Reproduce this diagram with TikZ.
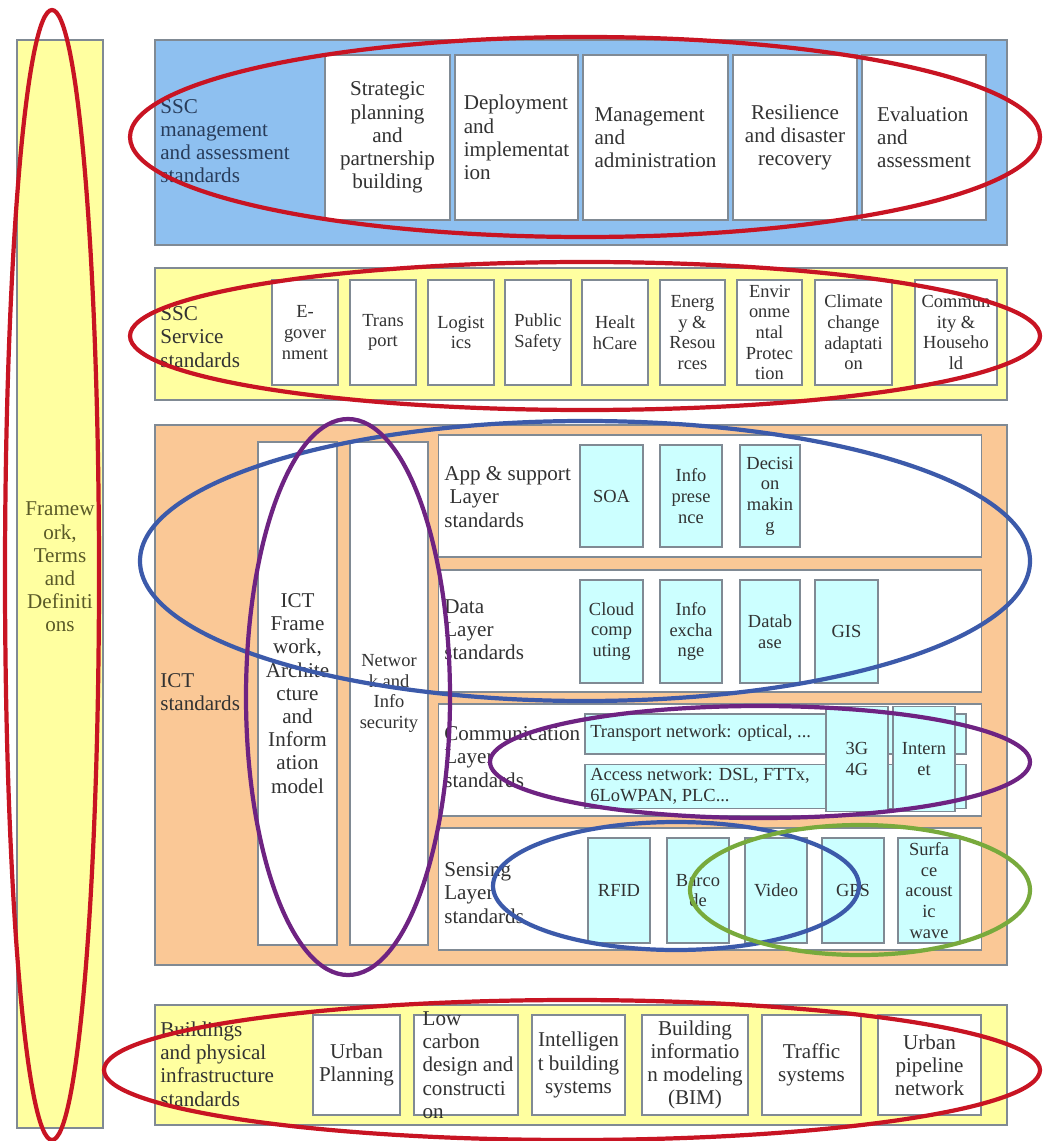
\documentclass[tikz,border=0pt]{standalone}
\usepackage{fontspec}
\setmainfont{Liberation Serif}
\definecolor{skyfill}{RGB}{142,192,240}
\definecolor{paleyellow}{RGB}{255,255,160}
\definecolor{peach}{RGB}{250,200,150}
\definecolor{icecyan}{RGB}{204,255,255}
\definecolor{rimgray}{RGB}{128,138,148}
\definecolor{inkgray}{RGB}{50,50,50}
\definecolor{slatetext}{RGB}{40,60,90}
\definecolor{olivetext}{RGB}{90,90,40}
\definecolor{ringred}{RGB}{200,20,35}
\definecolor{ringblue}{RGB}{60,90,170}
\definecolor{ringpurple}{RGB}{110,35,130}
\definecolor{ringgreen}{RGB}{120,170,60}

\begin{document}
\begin{tikzpicture}[x=0.02cm, y=-0.02cm,
    every node/.style={font=\fontsize{12}{13.2}\selectfont, text=inkgray},
    band/.style={rectangle, draw=rimgray, line width=0.9pt},
    wbox/.style={rectangle, draw=rimgray, fill=white, line width=0.9pt, inner sep=1pt, align=center},
    svcfont/.style={font=\fontsize{10.5}{11.8}\selectfont},
    cbox/.style={wbox, fill=icecyan, svcfont},
    lbl/.style={anchor=west, align=left, inner sep=0pt},
    ring/.style={line width=2.4pt}]
    \useasboundingbox (0,0) rectangle (1042,1141);

    % Framework column
    \node[band, fill=paleyellow, minimum width=1.72cm, minimum height=21.76cm] (frame) at (60,584) {};
    \node[align=center, text=olivetext] (frameT) at (60,567) {Framew\\ork,\\Terms\\and\\Definiti\\ons};

    % SSC management band
    \node[band, fill=skyfill, minimum width=17.04cm, minimum height=4.10cm] (mgmt) at (581,142.5) {};
    \node[lbl, text=slatetext] (mgmtT) at (160,141) {SSC\\management\\and assessment\\standards};
    \node[wbox, minimum width=2.50cm, minimum height=3.30cm] (strat) at (387.5,137.5) {Strategic\\planning\\and\\partnership\\building};
    \node[wbox, align=left, minimum width=2.46cm, minimum height=3.30cm] (deploy) at (516.5,137.5) {Deployment\\and\\implementat\\ion};
    \node[wbox, align=left, minimum width=2.90cm, minimum height=3.30cm] (manage) at (655.5,137.5) {Management\\and\\administration};
    \node[wbox, minimum width=2.48cm, minimum height=3.30cm] (resil) at (795,137.5) {Resilience\\and disaster\\recovery};
    \node[wbox, align=left, minimum width=2.48cm, minimum height=3.30cm] (evalu) at (924,137.5) {Evaluation\\and\\assessment};

    % SSC service band
    \node[band, fill=paleyellow, minimum width=17.04cm, minimum height=2.64cm] (svc) at (581,334) {};
    \node[lbl] (svcT) at (160,337) {SSC\\Service\\standards};
    \node[wbox, svcfont, minimum width=1.32cm, minimum height=2.10cm] (egov) at (305,332.5) {E-\\gover\\nment};
    \node[wbox, svcfont, minimum width=1.32cm, minimum height=2.10cm] (transp) at (383,332.5) {Trans\\port};
    \node[wbox, svcfont, minimum width=1.32cm, minimum height=2.10cm] (logis) at (461,332.5) {Logist\\ics};
    \node[wbox, svcfont, minimum width=1.32cm, minimum height=2.10cm] (safety) at (538,332.5) {Public\\Safety};
    \node[wbox, svcfont, minimum width=1.32cm, minimum height=2.10cm] (health) at (615,332.5) {Healt\\hCare};
    \node[wbox, svcfont, minimum width=1.30cm, minimum height=2.10cm] (energy) at (692.5,332.5) {Energ\\y \&\\Resou\\rces};
    \node[wbox, svcfont, minimum width=1.30cm, minimum height=2.10cm] (envir) at (769.5,332.5) {Envir\\onme\\ntal\\Protec\\tion};
    \node[wbox, svcfont, minimum width=1.54cm, minimum height=2.10cm] (climate) at (853.5,332.5) {Climate\\change\\adaptati\\on};
    \node[wbox, svcfont, minimum width=1.64cm, minimum height=2.10cm] (commun) at (956,332.5) {Commun\\ity \&\\Househo\\ld};

    % ICT band
    \node[band, fill=peach, minimum width=17.04cm, minimum height=10.80cm] (ict) at (581,695) {};
    \node[lbl] (ictT) at (160,692) {ICT\\standards};
    \node[wbox, minimum width=1.58cm, minimum height=10.06cm] (ictfw) at (297.5,693.5) {ICT\\Frame\\work,\\Archite\\cture\\and\\Inform\\ation\\model};
    \node[wbox, svcfont, minimum width=1.56cm, minimum height=10.06cm] (netsec) at (389,693.5) {Networ\\k and\\Info\\security};

    % layer rows
    \node[wbox, minimum width=10.86cm, minimum height=2.44cm] (app) at (710,496) {};
    \node[wbox, minimum width=10.86cm, minimum height=2.44cm] (data) at (710,631) {};
    \node[wbox, minimum width=10.86cm, minimum height=2.24cm] (comm) at (710,760) {};
    \node[wbox, minimum width=10.86cm, minimum height=2.44cm] (sense) at (710,889) {};
    \node[lbl] (appT) at (444,497) {App \& support\\\ Layer\\standards};
    \node[lbl] (dataT) at (444,630) {Data\\Layer\\standards};
    \node[lbl] (commT) at (444,757) {Communication\\Layer\\standards};
    \node[lbl] (senseT) at (444,893) {Sensing\\Layer\\standards};

    % app & support layer
    \node[cbox, minimum width=1.26cm, minimum height=2.04cm] (soa) at (611.5,496) {SOA};
    \node[cbox, minimum width=1.24cm, minimum height=2.04cm] (infopres) at (691,496) {Info\\prese\\nce};
    \node[cbox, minimum width=1.20cm, minimum height=2.04cm] (decis) at (770,496) {Decisi\\on\\makin\\g};

    % data layer
    \node[cbox, minimum width=1.26cm, minimum height=2.06cm] (cloud) at (611.5,631.5) {Cloud\\comp\\uting};
    \node[cbox, minimum width=1.24cm, minimum height=2.06cm] (infoex) at (691,631.5) {Info\\excha\\nge};
    \node[cbox, minimum width=1.20cm, minimum height=2.06cm] (datab) at (770,631.5) {Datab\\ase};
    \node[cbox, minimum width=1.26cm, minimum height=2.06cm] (gis) at (846.5,631.5) {GIS};

    % communication layer
    \node[cbox, minimum width=7.62cm, minimum height=0.80cm] (transnet) at (775.5,734) {};
    \node[cbox, minimum width=7.62cm, minimum height=0.88cm] (accnet) at (775.5,786.5) {};
    \node[lbl, svcfont] (transnetT) at (590,733) {Transport network: optical, ...};
    \node[lbl, svcfont] (accnetT) at (590,786) {Access network: DSL, FTTx,\\6LoWPAN, PLC...};
    \node[cbox, minimum width=1.24cm, minimum height=2.10cm] (gfour) at (857,759) {3G\\4G};
    \node[cbox, minimum width=1.24cm, minimum height=2.10cm] (inet) at (924,759) {Intern\\et};

    % sensing layer
    \node[cbox, minimum width=1.24cm, minimum height=2.10cm] (rfid) at (619,890.5) {RFID};
    \node[cbox, minimum width=1.24cm, minimum height=2.10cm] (barcode) at (698,890.5) {Barco\\de};
    \node[cbox, minimum width=1.24cm, minimum height=2.10cm] (video) at (776,890.5) {Video};
    \node[cbox, minimum width=1.24cm, minimum height=2.10cm] (gps) at (853,890.5) {GPS};
    \node[cbox, minimum width=1.24cm, minimum height=2.10cm] (saw) at (929,890.5) {Surfa\\ce\\acoust\\ic\\wave};

    % Buildings band
    \node[band, fill=paleyellow, minimum width=17.04cm, minimum height=2.40cm] (bldg) at (581,1065) {};
    \node[lbl] (bldgT) at (160,1064) {Buildings\\and physical\\infrastructure\\standards};
    \node[wbox, minimum width=1.74cm, minimum height=2.00cm] (urban) at (356.5,1065) {Urban\\Planning};
    \node[wbox, minimum width=2.08cm, minimum height=2.00cm] (lowc) at (466,1065) {};
    \node[align=left] (lowcT) at (468,1065) {Low\\carbon\\design and\\constructi\\on};
    \node[wbox, minimum width=1.86cm, minimum height=2.00cm] (intel) at (578.5,1065) {Intelligen\\t building\\systems};
    \node[wbox, minimum width=2.12cm, minimum height=2.00cm] (bim) at (695,1065) {Building\\informatio\\n modeling\\(BIM)};
    \node[wbox, minimum width=1.98cm, minimum height=2.00cm] (traffic) at (811.5,1065) {Traffic\\systems};
    \node[wbox, minimum width=2.06cm, minimum height=2.00cm] (pipe) at (929.5,1065) {Urban\\pipeline\\network};

    % Highlight rings
    \draw[ring, ringred] (52,575) ellipse [x radius=47, y radius=565];
    \draw[ring, ringred] (585,137) ellipse [x radius=455, y radius=100];
    \draw[ring, ringred] (585,336) ellipse [x radius=455, y radius=74];
    \draw[ring, ringred] (572,1070) ellipse [x radius=468, y radius=70];
    \draw[ring, ringblue] (585,561) ellipse [x radius=445, y radius=140];
    \draw[ring, ringpurple] (348,697) ellipse [x radius=102, y radius=278];
    \draw[ring, ringpurple] (760,762) ellipse [x radius=270, y radius=56];
    \draw[ring, ringblue] (676,886) ellipse [x radius=183, y radius=64];
    \draw[ring, ringgreen] (860,890) ellipse [x radius=170, y radius=65];
\end{tikzpicture}
\end{document}
